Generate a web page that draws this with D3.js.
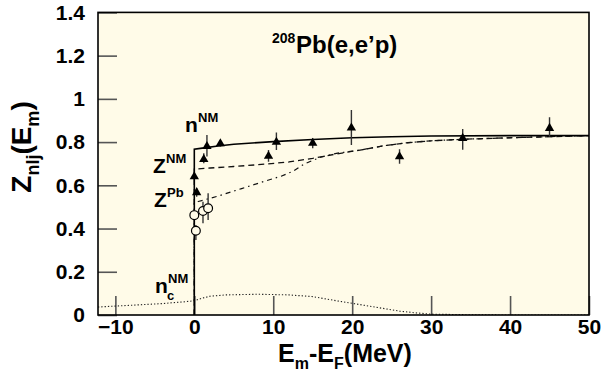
<!DOCTYPE html>
<html>
<head>
<meta charset="utf-8">
<script src="https://cdn.jsdelivr.net/npm/d3@7"></script>
<style>
  html, body { margin: 0; padding: 0; background: #ffffff; }
  svg { display: block; }
  text { font-family: "Liberation Sans", Arial, Helvetica, sans-serif; font-weight: bold; fill: #000; }
</style>
</head>
<body>
<svg id="chart" width="608" height="389"></svg>
<script>
// Spectroscopic strength Z_nlj(E_m) of 208Pb(e,e'p) versus missing energy

// axis ticks
const xTicks = [-10, 0, 10, 20, 30, 40, 50];
const yTicks = [0, 0.2, 0.4, 0.6, 0.8, 1, 1.2, 1.4];

// n^NM : nuclear-matter occupation (solid)
const nNM_E = [0, 0, 1, 3, 5, 10, 15, 20, 25, 30, 40, 50];
const nNM_Z = [0, 0.767, 0.772, 0.782, 0.79, 0.802, 0.812, 0.82, 0.825, 0.828, 0.83, 0.83];

// Z^NM : nuclear-matter quasiparticle strength (dashed)
const zNM_E = [0, 0, 2, 5, 8, 12, 15, 18, 21, 24, 27, 30, 34, 40, 50];
const zNM_Z = [0, 0.675, 0.68, 0.687, 0.695, 0.708, 0.725, 0.745, 0.763, 0.783, 0.797, 0.806, 0.813, 0.82, 0.83];

// Z^Pb : strength corrected for finite size (dash-dot)
const zPb_E = [0, 0, 0.5, 3, 6, 9, 11, 12.5, 14, 16, 18, 21, 24, 27, 30, 34, 40, 50];
const zPb_Z = [0, 0.52, 0.525, 0.55, 0.585, 0.62, 0.642, 0.665, 0.7, 0.73, 0.748, 0.763, 0.783, 0.797, 0.806, 0.813, 0.82, 0.83];

// n_c^NM : correlated (background) part (dotted)
const nc_E = [-12.2, -8, -4, -1, 0, 1, 2, 4, 8, 12, 15, 18, 20, 23, 26, 28, 30, 35, 40, 50];
const nc_Z = [0.037, 0.045, 0.053, 0.062, 0.066, 0.078, 0.087, 0.093, 0.096, 0.093, 0.085, 0.066, 0.054, 0.036, 0.018, 0.01, 0.004, 0.001, 0, 0];

// measured strengths, filled triangles
const triE  = [0.0, 0.3, 1.2, 1.6, 3.3, 9.4, 10.4, 15.0, 19.9, 26.0, 34.0, 45.0];
const triZ  = [0.64, 0.567, 0.72, 0.78, 0.793, 0.735, 0.80, 0.795, 0.866, 0.733, 0.818, 0.864];
const triLo = [0.63, 0.547, 0.702, 0.733, 0.778, 0.709, 0.763, 0.772, 0.787, 0.70, 0.764, 0.825];
const triHi = [0.65, 0.586, 0.748, 0.833, 0.81, 0.763, 0.844, 0.818, 0.949, 0.767, 0.86, 0.915];

// measured strengths, open circles
const cirE  = [0.0, 0.2, 1.1, 1.75];
const cirZ  = [0.462, 0.39, 0.481, 0.494];
const cirLo = [0.44, 0.347, 0.424, 0.44];
const cirHi = [0.485, 0.416, 0.524, 0.563];

const svg = d3.select("#chart");
const L = 98, R = 589, T = 12.4, B = 315;
const bg = "#fffbe8";

const x = d3.scaleLinear().domain([-12.2, 50]).range([L, R]);
const y = d3.scaleLinear().domain([0, 1.4]).range([B, T]);

// plot area
svg.append("rect").attr("x", L).attr("y", T).attr("width", R - L).attr("height", B - T)
  .attr("fill", bg);

const fmt = d => (d === 0 || d === 1) ? String(d) : d.toFixed(1);

// inward ticks
const xAxis = svg.append("g").attr("transform", `translate(0,${B})`)
  .call(d3.axisBottom(x).tickValues(xTicks).tickSize(-19).tickPadding(4).tickFormat(d3.format("d")));
const yAxis = svg.append("g").attr("transform", `translate(${L},0)`)
  .call(d3.axisLeft(y).tickValues(yTicks).tickSize(-19).tickPadding(13).tickFormat(fmt));
[xAxis, yAxis].forEach(g => {
  g.select(".domain").remove();
  g.selectAll(".tick line").attr("stroke", "#555").attr("stroke-width", 1.6);
  g.selectAll(".tick text").style("font-size", "21px").attr("fill", "#000")
    .style("font-family", "'Liberation Sans', Arial, sans-serif").style("font-weight", "bold");
});

const clip = svg.append("clipPath").attr("id", "plotclip")
  .append("rect").attr("x", L).attr("y", T).attr("width", R - L).attr("height", B - T);
const plot = svg.append("g").attr("clip-path", "url(#plotclip)");

const line = d3.line().x(d => x(d[0])).y(d => y(d[1]));
const pairs = (a, b) => a.map((v, i) => [v, b[i]]);

plot.append("path").datum(pairs(nc_E, nc_Z)).attr("d", line)
  .attr("fill", "none").attr("stroke", "#222").attr("stroke-width", 1.1).attr("stroke-dasharray", "1.3,2");
plot.append("path").datum(pairs(zPb_E, zPb_Z)).attr("d", line)
  .attr("fill", "none").attr("stroke", "#111").attr("stroke-width", 1.2).attr("stroke-dasharray", "5,4,1.5,4");
plot.append("path").datum(pairs(zNM_E, zNM_Z)).attr("d", line)
  .attr("fill", "none").attr("stroke", "#111").attr("stroke-width", 1.3).attr("stroke-dasharray", "6,4");
plot.append("path").datum(pairs(nNM_E, nNM_Z)).attr("d", line)
  .attr("fill", "none").attr("stroke", "#000").attr("stroke-width", 1.6);

// error bars
const bars = (E, lo, hi) => plot.append("g").selectAll("line").data(E).join("line")
  .attr("x1", d => x(d)).attr("x2", d => x(d))
  .attr("y1", (d, i) => y(lo[i])).attr("y2", (d, i) => y(hi[i]))
  .attr("stroke", "#333").attr("stroke-width", 1.4);
bars(triE, triLo, triHi);
bars(cirE, cirLo, cirHi);

plot.append("g").selectAll("path").data(triE).join("path")
  .attr("d", d3.symbol(d3.symbolTriangle, 38))
  .attr("transform", (d, i) => `translate(${x(d)},${y(triZ[i])})`)
  .attr("fill", "#000");

plot.append("g").selectAll("circle").data(cirE).join("circle")
  .attr("cx", d => x(d)).attr("cy", (d, i) => y(cirZ[i])).attr("r", 4.4)
  .attr("fill", bg).attr("stroke", "#000").attr("stroke-width", 1.2);

// frame
svg.append("rect").attr("x", L).attr("y", T).attr("width", R - L).attr("height", B - T)
  .attr("fill", "none").attr("stroke", "#000").attr("stroke-width", 1.6);

// curve labels
function label(px, py, main, sup, sub) {
  svg.append("text").attr("x", px).attr("y", py).style("font-size", "21px").text(main);
  const w = main.length * 12;
  if (sup) svg.append("text").attr("x", px + w + 1).attr("y", py - 10).style("font-size", "13px").text(sup);
  if (sub) svg.append("text").attr("x", px + w).attr("y", py + 7).style("font-size", "13px").text(sub);
}
label(185, 132, "n", "NM");
label(153, 173, "Z", "NM");
label(154, 207, "Z", "Pb");
label(155, 293, "n", "NM", "c");

// reaction title
svg.append("text").attr("x", 272).attr("y", 43).style("font-size", "14px").text("208");
svg.append("text").attr("x", 296).attr("y", 53).style("font-size", "24px").text("Pb(e,e\u2019p)");

// axis titles
const xt = svg.append("text").attr("x", 345).attr("y", 362).attr("text-anchor", "middle").style("font-size", "25px");
xt.append("tspan").text("E");
xt.append("tspan").attr("dy", 7).style("font-size", "16px").text("m");
xt.append("tspan").attr("dy", -7).text("-E");
xt.append("tspan").attr("dy", 7).style("font-size", "16px").text("F");
xt.append("tspan").attr("dy", -7).text("(MeV)");

const yt = svg.append("text").attr("transform", "translate(31,147) rotate(-90)")
  .attr("text-anchor", "middle").style("font-size", "28px");
yt.append("tspan").text("Z");
yt.append("tspan").attr("dy", 8).style("font-size", "18px").text("nlj");
yt.append("tspan").attr("dy", -8).text("(E");
yt.append("tspan").attr("dy", 8).style("font-size", "18px").text("m");
yt.append("tspan").attr("dy", -8).text(")");
</script>
</body>
</html>
